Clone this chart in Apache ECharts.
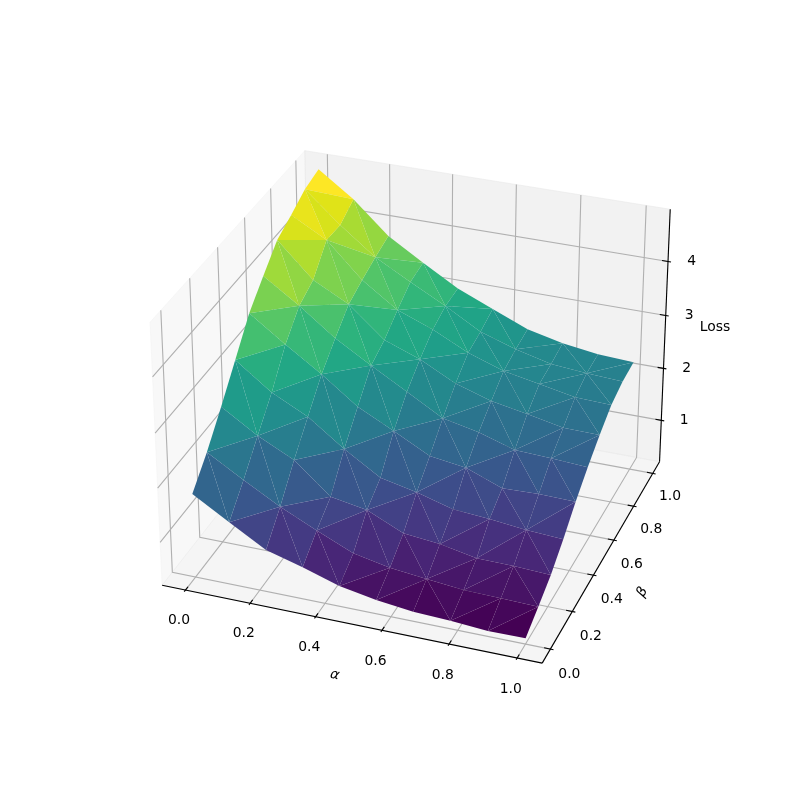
<!DOCTYPE html>
<html><head><meta charset="utf-8"><style>html,body{margin:0;background:#fff}#c{width:800px;height:800px}</style>
<script src="https://cdn.jsdelivr.net/npm/echarts@6/dist/echarts.min.js"></script></head>
<body><div id="c"></div>
<script>
const alphaValues=[0,1/9,2/9,3/9,4/9,5/9,6/9,7/9,8/9,1];
const betaValues=[0,1/9,2/9,3/9,4/9,5/9,6/9,7/9,8/9,1];
// Loss per beta row (beta = 0 first), alpha left to right
const loss0=[1.745,1.352,0.973,0.785,0.570,0.447,0.369,0.342,0.292,0.301];
const loss1=[2.161,1.777,1.411,1.100,0.808,0.675,0.598,0.534,0.516,0.497];
const loss2=[2.659,2.248,1.923,1.370,1.251,0.950,0.881,0.749,0.739,0.707];
const loss3=[3.184,2.705,2.380,1.909,1.498,1.356,1.169,1.119,1.046,1.004];
const loss4=[3.715,3.262,2.833,2.353,2.024,1.681,1.589,1.334,1.356,1.343];
const loss5=[4.085,3.651,3.171,2.787,2.417,2.046,1.905,1.699,1.672,1.631];
const loss6=[4.437,3.815,3.481,2.933,2.695,2.362,2.152,2.033,1.900,1.887];
const loss7=[4.597,4.249,3.619,3.175,2.928,2.609,2.385,2.261,2.133,2.110];
const loss8=[4.779,4.226,3.737,3.385,3.052,2.682,2.467,2.307,2.252,2.216];
const loss9=[4.862,4.409,3.833,3.440,3.070,2.796,2.526,2.375,2.284,2.252];
const lossRows=[loss0,loss1,loss2,loss3,loss4,loss5,loss6,loss7,loss8,loss9];
// triangulation: which diagonal splits each cell (per beta row)
const diagonals=['BABBAABAA','ABAABBAAB','BAABABAAB','AABABABBA','ABABABABB','BABABABAA','ABABAABAB','BABABBAAB','ABABABABA'];
const alphaTicks=[0,0.2,0.4,0.6,0.8,1];
const betaTicks=[0,0.2,0.4,0.6,0.8,1];
const lossTicks=[1,2,3,4];
const alphaName='α',betaName='β',lossName='Loss';
const alphaLim=[-0.05,1.05],betaLim=[-0.05,1.05],lossLim=[0.287,4.857];
const elevDeg=30,azimDeg=-70,camDist=10;
const viridis=['#440154','#471365','#482475','#463480','#414487','#3b528b','#355f8d','#2f6c8e','#2a788e','#25858e','#21918c','#1f9e89','#22a884','#2fb47c','#44bf70','#5ec962','#7ad151','#9bd93c','#bddf26','#dfe318','#fde725'];

const k=1.8294640721620434/Math.hypot(4,4,3),box=[4*k,4*k,3*k];
const el=elevDeg*Math.PI/180,az=azimDeg*Math.PI/180;
const w=[Math.cos(el)*Math.cos(az),Math.cos(el)*Math.sin(az),Math.sin(el)];
const un=Math.hypot(w[0],w[1]),u=[-w[1]/un,w[0]/un,0];
const v=[w[1]*u[2]-w[2]*u[1],w[2]*u[0]-w[0]*u[2],w[0]*u[1]-w[1]*u[0]];
const rel=f=>[(f[0]-.5)*box[0],(f[1]-.5)*box[1],(f[2]-.5)*box[2]];
const dot=(a,b)=>a[0]*b[0]+a[1]*b[1]+a[2]*b[2];
const depth=f=>camDist-dot(rel(f),w);
const project=f=>{const p=rel(f),d=depth(f);return [dot(p,u)/d,dot(p,v)/d];};
const nx=t=>(t-alphaLim[0])/(alphaLim[1]-alphaLim[0]);
const ny=t=>(t-betaLim[0])/(betaLim[1]-betaLim[0]);
const nz=t=>(t-lossLim[0])/(lossLim[1]-lossLim[0]);
const lo=-1/48,hi=49/48;

function hexRgb(h){return [1,3,5].map(i=>parseInt(h.substr(i,2),16));}
function cmap(t){t=Math.max(0,Math.min(1,t))*(viridis.length-1);const i=Math.min(Math.floor(t),viridis.length-2),f=t-i;
  const a=hexRgb(viridis[i]),b=hexRgb(viridis[i+1]);return 'rgb('+a.map((c,n)=>Math.round(c+(b[n]-c)*f)).join(',')+')';}

// surface triangles
const vert=(i,j)=>({f:[nx(alphaValues[i]),ny(betaValues[j]),nz(lossRows[j][i])],z:lossRows[j][i]});
let tris=[];
diagonals.forEach((row,j)=>row.split('').forEach((d,i)=>{
  const a=vert(i,j),b=vert(i+1,j),c=vert(i,j+1),e=vert(i+1,j+1);
  (d==='A'?[[a,b,e],[a,e,c]]:[[a,b,c],[b,e,c]]).forEach(t=>tris.push({pts:t.map(q=>q.f),m:(t[0].z+t[1].z+t[2].z)/3,
    d:(depth(t[0].f)+depth(t[1].f)+depth(t[2].f))/3}));
}));
const mMin=Math.min(...tris.map(t=>t.m)),mMax=Math.max(...tris.map(t=>t.m));
tris.sort((a,b)=>b.d-a.d);

// panes
const panes=[
 {pts:[[lo,lo,lo],[lo,hi,lo],[lo,hi,hi],[lo,lo,hi]],fill:'rgba(242,242,242,0.5)'},
 {pts:[[lo,hi,lo],[hi,hi,lo],[hi,hi,hi],[lo,hi,hi]],fill:'rgba(230,230,230,0.5)'},
 {pts:[[lo,lo,lo],[hi,lo,lo],[hi,hi,lo],[lo,hi,lo]],fill:'rgba(236,236,236,0.5)'}];
// grid lines, axis lines, ticks
const lines=[];
alphaTicks.forEach(t=>{const x=nx(t);lines.push({pts:[[x,lo,lo],[x,hi,lo],[x,hi,hi]],c:'#b0b0b0'});});
betaTicks.forEach(t=>{const y=ny(t);lines.push({pts:[[lo,y,hi],[lo,y,lo],[hi,y,lo]],c:'#b0b0b0'});});
lossTicks.forEach(t=>{const z=nz(t);lines.push({pts:[[lo,lo,z],[lo,hi,z],[hi,hi,z]],c:'#b0b0b0'});});
lines.push({pts:[[lo,lo,lo],[hi,lo,lo]],c:'#000'},{pts:[[hi,lo,lo],[hi,hi,lo]],c:'#000'},{pts:[[hi,hi,lo],[hi,hi,hi]],c:'#000'});
const tIn=1/60,tOut=1/120;
alphaTicks.forEach(t=>{const x=nx(t);lines.push({pts:[[x,lo-tOut,lo],[x,lo+tIn,lo]],c:'#000'});});
betaTicks.forEach(t=>{const y=ny(t);lines.push({pts:[[hi+tOut,y,lo],[hi-tIn,y,lo]],c:'#000'});});
lossTicks.forEach(t=>{const z=nz(t);lines.push({pts:[[hi+tOut,hi,z],[hi-tIn,hi,z]],c:'#000'});});
// texts
const texts=[];
const fmt=t=>t.toFixed(1);
alphaTicks.forEach(t=>texts.push({f:[nx(t),lo-.048,lo-.086],s:fmt(t)}));
betaTicks.forEach(t=>texts.push({f:[hi+.052,ny(t),lo-.086],s:fmt(t)}));
lossTicks.forEach(t=>texts.push({f:[hi+.059,hi+.022,nz(t)],s:String(t)}));
const rad=d=>d*Math.PI/180;
texts.push({f:[.5,lo-.102,lo-.124],s:alphaName,italic:true,rot:rad(-12.8)});
texts.push({f:[hi+.109,.5,lo-.113],s:betaName,italic:true,rot:rad(59.8)});
texts.push({f:[hi+.111,hi+.1075,.5],s:lossName});

const idx=a=>a.map((_,i)=>[i]);
const base={type:'custom',coordinateSystem:'cartesian2d',clip:false,silent:true,animation:false,progressive:0};
const chart=echarts.init(document.getElementById('c'),null,{renderer:'canvas',width:800,height:800});
chart.setOption({
  animation:false,backgroundColor:'#fff',tooltip:{show:false},
  grid:{left:102,top:96,width:616,height:616,containLabel:false},
  xAxis:{type:'value',min:-0.095,max:0.09,show:false},
  yAxis:{type:'value',min:-0.095,max:0.09,show:false},
  series:[
   {...base,z:1,data:idx(panes),renderItem:(p,api)=>{const q=panes[api.value(0)];
     return {type:'polygon',shape:{points:q.pts.map(f=>api.coord(project(f)))},style:{fill:q.fill,stroke:q.fill,lineWidth:1}};}},
   {...base,z:2,data:idx(lines),renderItem:(p,api)=>{const q=lines[api.value(0)];
     return {type:'polyline',shape:{points:q.pts.map(f=>api.coord(project(f)))},style:{stroke:q.c,lineWidth:1.11,fill:null}};}},
   {...base,z:3,data:idx(tris),renderItem:(p,api)=>{const q=tris[api.value(0)];
     return {type:'polygon',shape:{points:q.pts.map(f=>api.coord(project(f)))},style:{fill:cmap((q.m-mMin)/(mMax-mMin))}};}},
   {...base,z:4,data:idx(texts),renderItem:(p,api)=>{const q=texts[api.value(0)],c=api.coord(project(q.f));
     return {type:'text',x:c[0],y:c[1],rotation:q.rot||0,style:{text:q.s,fill:'#000',fontSize:13.9,fontFamily:'DejaVu Sans',
       fontStyle:q.italic?'italic':'normal',align:'center',verticalAlign:'middle'}};}}
  ]
});
</script></body></html>
